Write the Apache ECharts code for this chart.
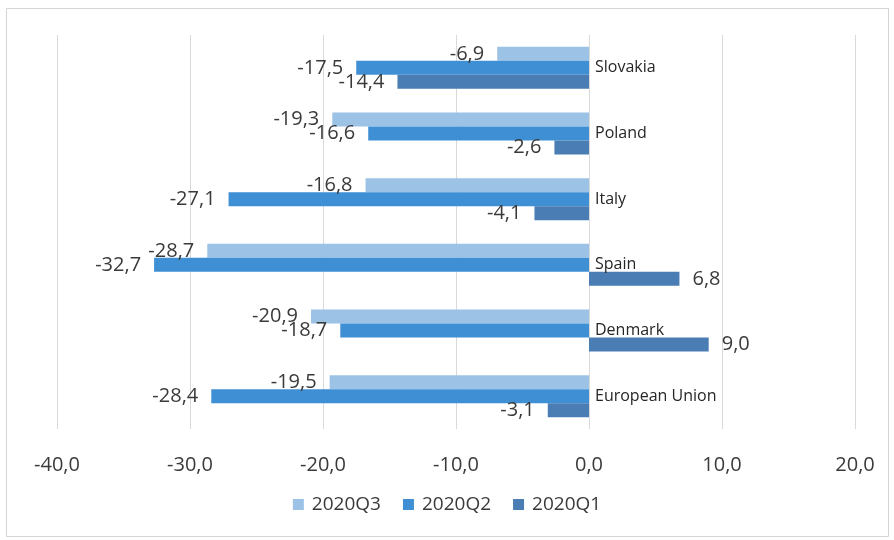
<!DOCTYPE html>
<html>
<head>
<meta charset="utf-8">
<script src="https://cdn.jsdelivr.net/npm/echarts@6/dist/echarts.min.js"></script>
<style>
  html, body { margin: 0; padding: 0; background: #ffffff; }
  #chart { width: 894px; height: 540px; }
</style>
</head>
<body>
<div id="chart"></div>
<script>
// Countries, bottom to top on the category axis
const countries = ['European Union', 'Denmark', 'Spain', 'Italy', 'Poland', 'Slovakia'];

// Quarterly change (%) per country, same order as `countries`
const q3Values = [-19.5, -20.9, -28.7, -16.8, -19.3, -6.9];
const q2Values = [-28.4, -18.7, -32.7, -27.1, -16.6, -17.5];
const q1Values = [-3.1, 9.0, 6.8, -4.1, -2.6, -14.4];

const seriesNames = ['2020Q3', '2020Q2', '2020Q1'];
const xTicks = { min: -40, max: 20, step: 10 };

const colors = { '2020Q3': '#9cc2e5', '2020Q2': '#3f8fd4', '2020Q1': '#4a7db3' };
const FONT = '"Open Sans", "Noto Sans", sans-serif';

const GRID = { left: 57, right: 39, top: 35, bottom: 111 };
const CHART_W = 894;

function comma(v) { return v.toFixed(1).replace('.', ','); }

function makeSeries(name, values) {
  return {
    name: name,
    type: 'bar',
    barWidth: 14,
    barGap: '0%',
    itemStyle: { color: colors[name] },
    data: values.map(v => ({
      value: v,
      label: {
        show: true,
        position: v < 0 ? 'left' : 'right',
        distance: 13,
        formatter: comma(v),
        color: '#3a3a3a',
        fontFamily: FONT,
        fontSize: 20
      }
    }))
  };
}

// Country names sit just right of the zero line
const plotWidth = CHART_W - GRID.left - GRID.right;
const zeroOffset = plotWidth * (0 - xTicks.min) / (xTicks.max - xTicks.min);

const chart = echarts.init(document.getElementById('chart'), null, { renderer: 'canvas' });

chart.setOption({
  backgroundColor: '#ffffff',
  animation: false,
  graphic: [{
    type: 'rect',
    shape: { x: 6.5, y: 8.5, width: 882, height: 528 },
    style: { fill: 'none', stroke: '#d4d4d4', lineWidth: 1 },
    silent: true
  }],
  grid: Object.assign({ containLabel: false }, GRID),
  legend: {
    data: seriesNames,
    bottom: 21,
    left: 'center',
    icon: 'rect',
    itemWidth: 11,
    itemHeight: 11,
    itemGap: 22,
    textStyle: { color: '#3a3a3a', fontFamily: FONT, fontSize: 19, padding: [0, 0, 0, 3] }
  },
  xAxis: {
    type: 'value',
    min: xTicks.min,
    max: xTicks.max,
    interval: xTicks.step,
    axisLine: { show: false },
    axisTick: { show: false },
    splitLine: { show: true, lineStyle: { color: '#d9d9d9', width: 1 } },
    axisLabel: {
      formatter: v => comma(v),
      color: '#3a3a3a',
      fontFamily: FONT,
      fontSize: 20,
      margin: 26
    }
  },
  yAxis: {
    type: 'category',
    data: countries,
    axisLine: { show: false },
    axisTick: { show: false },
    splitLine: { show: false },
    axisLabel: {
      inside: true,
      margin: zeroOffset + 6,
      color: '#262626',
      fontFamily: FONT,
      fontSize: 16
    },
    z: 5
  },
  series: [
    makeSeries('2020Q3', q3Values),
    makeSeries('2020Q2', q2Values),
    makeSeries('2020Q1', q1Values)
  ]
});
</script>
</body>
</html>
